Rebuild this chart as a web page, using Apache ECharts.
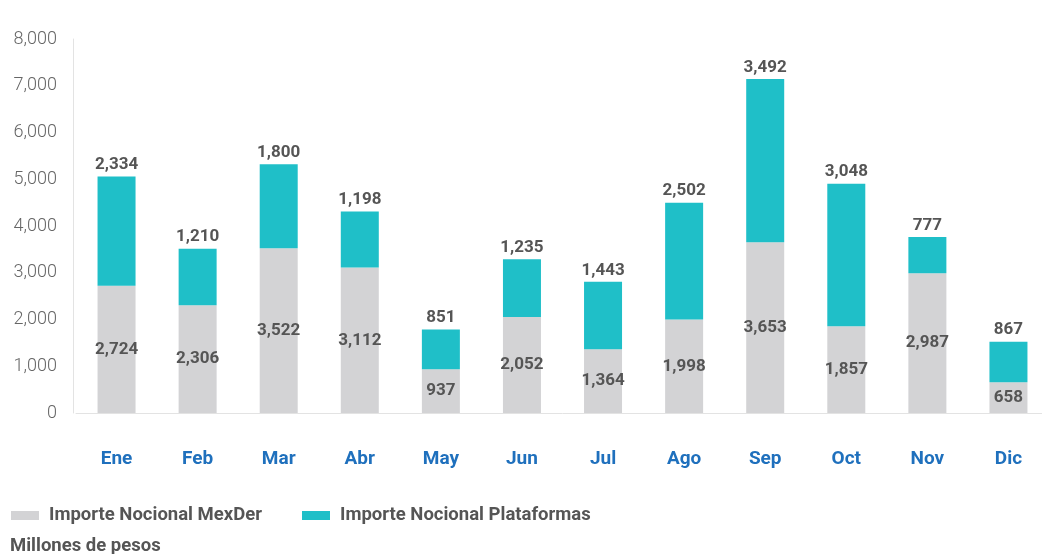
<!DOCTYPE html>
<html><head><meta charset="utf-8">
<script src="https://cdn.jsdelivr.net/npm/echarts@6/dist/echarts.min.js"></script>
<style>html,body{margin:0;padding:0;background:#fff;overflow:hidden}#c{width:1052px;height:554px}</style>
</head><body><div id="c"></div>
<script>
const categories = ['Ene','Feb','Mar','Abr','May','Jun','Jul','Ago','Sep','Oct','Nov','Dic'];
const mexder = [2724,2306,3522,3112,937,2052,1364,1998,3653,1857,2987,658];
const plataformas = [2334,1210,1800,1198,851,1235,1443,2502,3492,3048,777,867];
const yTicks = [0,1000,2000,3000,4000,5000,6000,7000,8000];

const fmt = v => v.toLocaleString('en-US');
const font = 'Roboto';
const chart = echarts.init(document.getElementById('c'));
chart.setOption({
  animation: false,
  textStyle: {fontFamily: font},
  grid: {left: 76, width: 973, top: 39, height: 374, containLabel: false},
  legend: {
    left: 11, top: 506, padding: 0, itemWidth: 28, itemHeight: 9, itemGap: 40,
    icon: 'rect',
    textStyle: {fontFamily: font, fontSize: 18.5, fontWeight: 'bold', color: '#555', padding: [0,0,0,5]},
    data: ['Importe Nocional MexDer','Importe Nocional Plataformas']
  },
  graphic: [{type: 'text', left: 10, top: 537, style: {text: 'Millones de pesos', font: 'bold 18.5px Roboto', fill: '#555'}}],
  xAxis: {
    type: 'category', data: categories,
    axisLine: {lineStyle: {color: '#e3e3e3', width: 1}},
    axisTick: {show: false},
    axisLabel: {color: '#1f70bd', fontSize: 19, fontWeight: 'bold', margin: 37, fontFamily: font}
  },
  yAxis: {
    type: 'value', min: 0, max: 8000, interval: 1000, offset: 3,
    axisLine: {show: true, lineStyle: {color: '#e3e3e3'}},
    splitLine: {show: false},
    axisLabel: {color: '#666', fontSize: 18, fontWeight: 300, margin: 16, fontFamily: font,
      formatter: v => yTicks.includes(v) ? fmt(v) : ''}
  },
  series: [
    {name: 'Importe Nocional MexDer', type: 'bar', stack: 's', barWidth: 38,
     data: mexder, itemStyle: {color: '#d3d3d5'},
     label: {show: true, position: 'inside', formatter: p => fmt(p.value),
       color: '#555', fontSize: 17, fontWeight: 'bold', fontFamily: font}},
    {name: 'Importe Nocional Plataformas', type: 'bar', stack: 's', barWidth: 38,
     data: plataformas, itemStyle: {color: '#1fbfc8'},
     label: {show: true, position: 'top', distance: 3, formatter: p => fmt(p.value),
       color: '#555', fontSize: 17, fontWeight: 'bold', fontFamily: font}}
  ]
});
</script></body></html>
